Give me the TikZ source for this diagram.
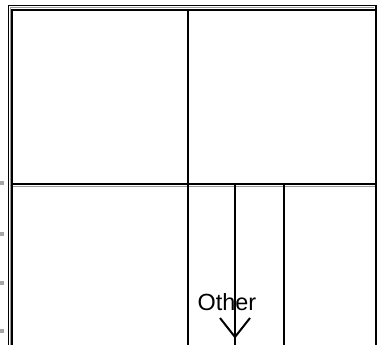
\documentclass[tikz,border=0pt]{standalone}
\usepackage{fontspec}
\setmainfont{Liberation Sans}
\usepackage{tikz}

\begin{document}
\begin{tikzpicture}[x=1bp, y=-1bp, >=stealth,
  wall/.style={black, line width=2.5bp},
  shade/.style={black!40, line width=1bp},
  tick/.style={fill=black!35},
  label/.style={font=\fontsize{23.5}{24}\selectfont, inner sep=0pt}]
\useasboundingbox (0,0) rectangle (377,345);
% --- Outer frame (double line) ---
\draw[black, line width=1.2bp] (8.5,345) -- (8.5,5.5) -- (376,5.5);
\draw[shade] (10.3,345) -- (10.3,7.5) -- (374,7.5);
\draw[wall] (12.2,345) -- (12.2,10) -- (375,10);
\draw[wall] (376,4.5) -- (376,345);
% --- Middle walls ---
\draw[wall] (12,184) -- (376,184);
\draw[shade] (13,186) -- (375,186);
\draw[wall] (188,10) -- (188,345);
% --- Lower right compartments ---
\coordinate (top) at (235,185);
\coordinate (tip) at (235,337);
\draw[wall] (284,185) -- (284,345);
\draw[wall] (top) -- (235,345);
% arrow head (open V)
\draw[wall, line width=2bp] (220,318) -- (tip) -- (250,318);
\node[label, anchor=base] (other) at (227,310) {Other};
% --- Ticks on the left ---
\foreach \y in {183, 234, 283, 331} {
  \fill[tick] (0,\y-2) rectangle (4,\y+2);
}
\end{tikzpicture}
\end{document}
